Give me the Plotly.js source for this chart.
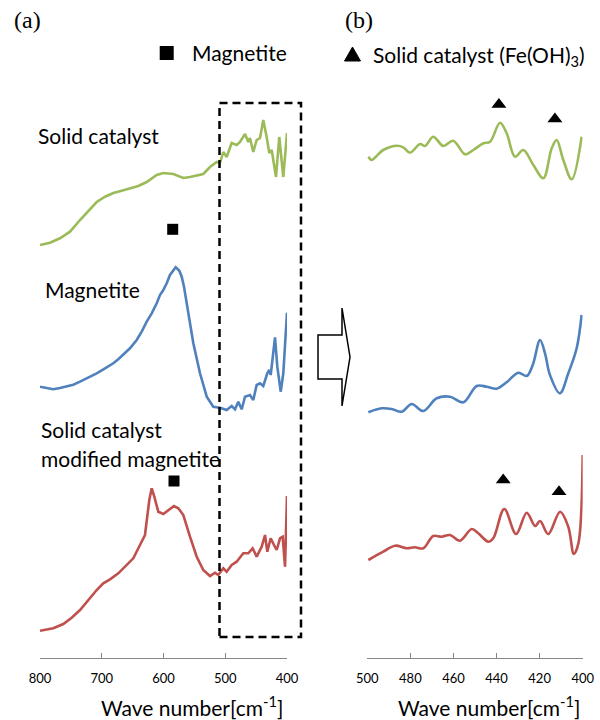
<!DOCTYPE html>
<html><head><meta charset="utf-8">
<script src="https://cdn.plot.ly/plotly-3.0.1.min.js"></script>
<style>html,body{margin:0;padding:0;background:#fff}#chart{width:600px;height:720px}</style>
</head><body><div id="chart"></div>
<script>
// ---- Panel (a): full spectra (wave number, relative intensity) ----
const wnA_cat = [800,783.8,767.6,751.4,735.2,721.8,708.2,694.7,681.3,667.7,654.3,640.8,627.2,616.5,611.0,600.3,584.1,567.9,557.1,535.6,524.7,513.9,508.5,503.2,497.7,489.6,481.5,476.1,468.0,462.7,460.0,454.6,449.1,443.7,438.4,432.9,428.7,424.8,417.8,412.5,406.0,400];
const valA_cat = [413,415.3,419.7,426.3,438,447.3,456,461.3,465,467.3,470,472,476,480.7,483,485,484,480,481,484,491,496,495,506,501,515,513,516,524,516,520,506,518,520,538,521,505,508,481,521,481,525];

const wnA_mag = [800,789.2,778.5,767.6,756.8,746.1,735.2,721.8,708.2,694.7,681.3,673.2,665.1,654.3,643.4,635.3,627.2,619.1,611.0,605.7,600.3,594.8,589.5,580.2,574.4,570.5,566.8,562.4,551.7,540.9,530.0,519.4,508.5,497.7,489.6,484.2,478.9,473.4,468.0,460.0,454.6,449.1,443.7,438.4,431.9,428.7,426.4,419.4,415.7,410.2,406.0,400];
const valA_mag = [271.3,270.3,268.7,270,272,273.3,276.3,280.3,284.7,289.7,294.7,298.7,303,309.7,318,326.3,336.3,344.7,354.7,363,368,374.7,383,390.7,387.3,381.3,371.3,354.7,314.7,284.7,261.3,251.3,250.3,248,252,248.7,256.3,248.7,261.3,263,258,273,274.7,272,284.7,288,283,320.7,291.3,266.3,284.7,345.3];

const wnA_mod = [800,789.2,778.5,762.3,748.7,735.2,721.8,708.2,697.5,686.6,673.2,659.6,648.9,638.1,630.0,623.0,619.1,614.9,608.4,600.3,592.2,583.0,576.0,567.9,557.1,546.2,535.6,524.7,516.6,511.3,503.2,497.7,489.6,481.5,470.8,462.7,455.6,449.1,441.0,435.6,431.9,426.4,421.1,416.7,411.3,407.0,403.2,400];
const valA_mod = [27.3,28.7,29.7,34,40.3,48,58,68,74.7,78.7,84.7,93,99.7,113,123,158,169.7,161.3,146.3,144,148,152,149.7,143,121.3,101.3,88,82,85.3,83,89.7,86.3,93,96.3,104.7,104.7,109.7,101.3,111.3,123,106.3,119.7,113,108,119.7,121.3,91.3,162];

// ---- Panel (b): 500-400 cm-1 detail ----
const wnB_cat = [499.5,498.0,492.6,486.3,483.3,480.2,475.5,473.2,469.4,464.7,460.1,454.6,450.8,446.1,443.0,438.4,435.3,431.4,427.6,422.9,418.3,414.4,412.1,409.0,405.1,400.5];
const valB_cat = [501.3,498,508,512.3,510.7,505.3,514,512,521.3,512,517.3,503.7,508,514.7,516.3,535.3,524.7,501.3,508,493,479.7,509.7,518,498,478.7,521.3];

const wnB_mag = [499.5,493.3,488.7,484.0,479.4,474.0,467.8,461.6,455.4,449.2,444.6,439.9,435.3,429.9,426.0,423.2,419.8,417.5,415.2,410.6,406.7,402.8,400.5];
const valB_mag = [245.7,249.7,249,246.3,254,247,259.7,261.3,255.7,272,271.3,269.3,275.7,285.3,282,293,318,304.7,283,264.7,284.7,309.7,343];

const wnB_mod = [499.5,492.6,487.1,481.7,477.9,474.0,469.4,465.5,461.6,457.0,451.5,448.5,443.8,441.5,436.4,430.9,426.0,422.1,419.8,416.0,410.5,406.7,404.1,402.0,400.0];
const valB_mod = [98,106.3,112.3,109.7,110.7,109.7,122,121.3,123,117.3,129,124.7,116.3,119.7,149,124,145.3,132,137,124,146.3,131.3,104,114.7,203];

// ---- Peak markers ----
const sqWn = [585.1, 583.0];
const sqVal = [428.7, 177];
const triWn = [438.9, 412.9, 436.9, 411.0];
const triVal = [553.5, 539, 178, 166.3];
const legSqWn = [594.8], legSqVal = [605];

const xTicksA = [800,700,600,500,400];
const xTicksB = [500,480,460,440,420,400];
const xTitle = 'Wave number[cm<sup>-1</sup>]';

const GREEN = '#9BBB59', BLUE = '#4F81BD', RED = '#C0504D';
const W = 600, H = 720;
const px = x => x / W, py = y => 1 - y / H;

function line(x, y, color, xa, shape) {
  return {x, y, type:'scatter', mode:'lines', xaxis:xa, yaxis: xa==='x'?'y':'y2',
    line:{color, width:2.6, shape: shape||'linear', smoothing:1}, hoverinfo:'skip', showlegend:false};
}
function marks(x, y, symbol, size, xa) {
  return {x, y, type:'scatter', mode:'markers', xaxis:xa, yaxis: xa==='x'?'y':'y2', cliponaxis:false,
    marker:{symbol, size, color:'#000'}, hoverinfo:'skip', showlegend:false};
}

const data = [
  line(wnA_cat, valA_cat, GREEN, 'x'),
  line(wnA_mag, valA_mag, BLUE, 'x'),
  line(wnA_mod, valA_mod, RED, 'x'),
  line(wnB_cat, valB_cat, GREEN, 'x2', 'spline'),
  line(wnB_mag, valB_mag, BLUE, 'x2', 'spline'),
  line(wnB_mod, valB_mod, RED, 'x2', 'spline'),
  marks(sqWn, sqVal, 'square', 11, 'x'),
  marks(triWn, triVal, 'triangle-up', 13, 'x2'),
  marks(legSqWn, legSqVal, 'square', 14, 'x')
];

const axFont = {family:'Lato, sans-serif', size:13, color:'#000'};
const titleFont = {family:'Lato, sans-serif', size:21, color:'#000'};
const xCommon = {showgrid:false, zeroline:false, showline:true, linecolor:'#868686', linewidth:1,
  ticks:'inside', ticklen:5, tickcolor:'#868686', tickfont:axFont, ticklabelstandoff:8};
const yCommon = {visible:false, range:[0,658], domain:[62/720,1], fixedrange:true};

const layout = {
  width:W, height:H, margin:{l:0,r:0,t:0,b:0}, paper_bgcolor:'#fff', plot_bgcolor:'rgba(0,0,0,0)',
  showlegend:false,
  xaxis:Object.assign({}, xCommon, {domain:[40/W, 287/W], range:[800,400], tickvals:xTicksA, anchor:'y'}),
  xaxis2:Object.assign({}, xCommon, {domain:[367.3/W, 582.7/W], range:[500,400], tickvals:xTicksB, anchor:'y2'}),
  yaxis:Object.assign({}, yCommon, {anchor:'x'}),
  yaxis2:Object.assign({}, yCommon, {anchor:'x2'}),
  shapes:[
    {type:'rect', xref:'paper', yref:'paper', x0:px(219.5), x1:px(301), y0:py(637), y1:py(103),
      line:{color:'#000', width:2.5, dash:'8px,5px'}, fillcolor:'rgba(0,0,0,0)'},
    {type:'path', xref:'paper', yref:'paper',
      path:`M${px(318)},${py(335)} L${px(342)},${py(335)} L${px(342)},${py(308)} L${px(350)},${py(357)} L${px(342)},${py(406)} L${px(342)},${py(379)} L${px(318)},${py(379)} Z`,
      line:{color:'#000', width:1.5}, fillcolor:'#fff'},
    {type:'path', xref:'paper', yref:'paper',
      path:`M${px(344.5)},${py(61)} L${px(360.5)},${py(61)} L${px(352.5)},${py(47)} Z`,
      line:{color:'#000', width:1}, fillcolor:'#000'}
  ],
  annotations:[
    {text:'(a)', x:px(12), y:py(20), font:{family:'Liberation Serif, serif', size:24, color:'#000'}},
    {text:'(b)', x:px(343), y:py(20), font:{family:'Liberation Serif, serif', size:24, color:'#000'}},
    {text:'Magnetite', x:px(190), y:py(53), font:titleFont},
    {text:'Solid catalyst (Fe(OH)<sub>3</sub>)', x:px(371), y:py(56), font:titleFont},
    {text:'Solid catalyst', x:px(36), y:py(135), font:titleFont},
    {text:'Magnetite', x:px(43), y:py(289), font:titleFont},
    {text:'Solid catalyst', x:px(39), y:py(429), font:titleFont},
    {text:'modified magnetite', x:px(39), y:py(458), font:titleFont},
    {text:xTitle, x:px(192), y:py(706), xanchor:'center', font:titleFont},
    {text:xTitle, x:px(489), y:py(706), xanchor:'center', font:titleFont}
  ].map(a => Object.assign({xref:'paper', yref:'paper', xanchor:'left', yanchor:'middle', showarrow:false}, a))
};

Plotly.newPlot('chart', data, layout, {displayModeBar:false, staticPlot:true});
</script>
</body></html>
